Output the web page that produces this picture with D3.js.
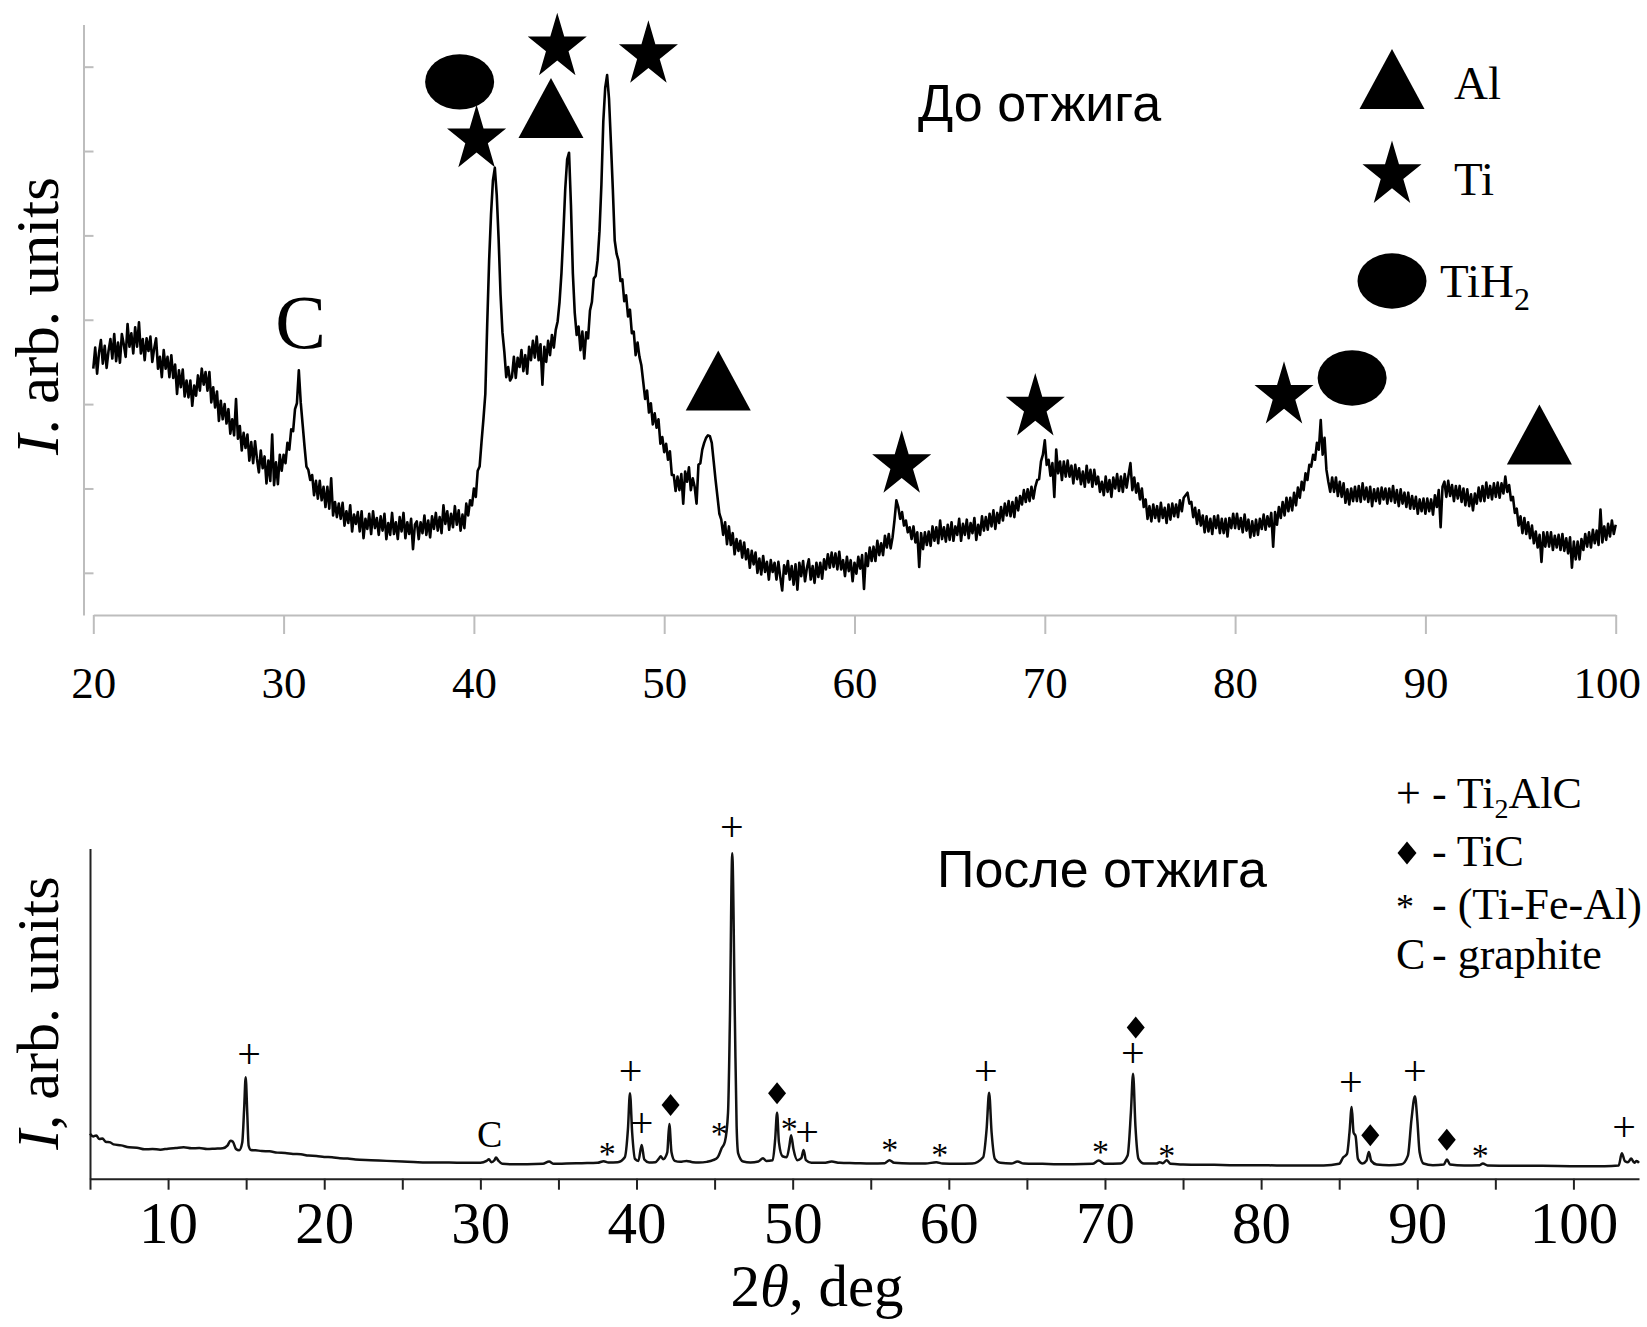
<!DOCTYPE html>
<html>
<head>
<meta charset="utf-8">
<script src="https://cdn.jsdelivr.net/npm/d3@7"></script>
<style>
  body { margin: 0; background: #fff; }
  svg { display: block; }
</style>
</head>
<body>
<div id="chart"></div>
<script>
// ---- top pattern (before annealing): 2theta 20..100 deg, step 0.1 ----
const topStart = 20, topStep = 0.1;
const topCounts = [
  292, 317, 286, 311, 326, 298, 319, 293, 313, 327,
  304, 333, 301, 323, 299, 333, 321, 306, 345, 318,
  334, 310, 341, 318, 347, 310, 327, 302, 328, 313,
  330, 300, 316, 328, 292, 306, 282, 314, 292, 306,
  282, 308, 281, 297, 262, 290, 270, 291, 259, 278,
  258, 278, 248, 272, 260, 284, 266, 292, 273, 288,
  266, 288, 252, 270, 246, 265, 230, 254, 232, 250,
  227, 244, 215, 232, 213, 256, 209, 224, 195, 216,
  198, 214, 183, 205, 180, 206, 185, 169, 195, 174,
  188, 156, 183, 159, 214, 154, 181, 155, 190, 171,
  190, 180, 204, 196, 220, 218, 244, 251, 290, 252,
  226, 200, 176, 172, 160, 166, 142, 159, 138, 159,
  136, 152, 128, 152, 126, 162, 118, 134, 116, 132,
  114, 133, 106, 123, 109, 130, 99, 119, 108, 122,
  99, 123, 91, 114, 102, 120, 96, 123, 103, 115,
  95, 117, 100, 120, 90, 109, 95, 121, 96, 110,
  90, 116, 99, 121, 91, 110, 96, 114, 78, 107,
  111, 90, 110, 97, 118, 95, 112, 92, 117, 102,
  121, 100, 116, 97, 130, 108, 123, 101, 120, 104,
  129, 107, 124, 100, 119, 103, 132, 118, 136, 130,
  150, 140, 171, 176, 205, 232, 262, 345, 420, 475,
  515, 530, 498, 445, 380, 335, 312, 282, 294, 278,
  282, 306, 281, 305, 294, 314, 289, 308, 286, 318,
  302, 325, 305, 330, 302, 321, 273, 318, 300, 325,
  308, 332, 317, 338, 348, 371, 405, 452, 505, 540,
  548, 486, 405, 358, 332, 342, 314, 336, 304, 335,
  328, 361, 371, 399, 402, 420, 455, 510, 585, 625,
  640, 612, 560, 505, 444, 428, 420, 396, 398, 372,
  379, 354, 362, 334, 336, 308, 323, 306, 296, 276,
  256, 266, 240, 251, 226, 239, 222, 232, 203, 211,
  193, 203, 184, 194, 166, 166, 147, 164, 148, 167,
  132, 170, 158, 175, 148, 162, 152, 132, 178, 180,
  196, 204, 210, 213, 212, 204, 182, 160, 140, 120,
  113, 95, 110, 84, 105, 83, 97, 72, 90, 76,
  88, 68, 86, 66, 78, 56, 76, 60, 74, 50,
  67, 48, 70, 51, 63, 42, 65, 51, 62, 42,
  63, 45, 29, 59, 49, 64, 42, 58, 36, 60,
  30, 62, 46, 64, 40, 56, 66, 42, 58, 38,
  62, 45, 62, 43, 66, 54, 72, 56, 74, 57,
  73, 54, 75, 54, 65, 46, 69, 52, 65, 40,
  62, 49, 69, 55, 71, 31, 73, 58, 80, 64,
  81, 64, 88, 71, 85, 71, 94, 80, 96, 79,
  92, 112, 136, 128, 114, 122, 106, 112, 98, 104,
  90, 105, 86, 98, 57, 97, 78, 98, 83, 99,
  82, 105, 88, 104, 85, 112, 90, 104, 87, 107,
  89, 110, 88, 105, 95, 114, 88, 108, 95, 113,
  91, 109, 97, 115, 89, 107, 95, 117, 100, 116,
  101, 120, 105, 124, 102, 121, 109, 128, 112, 132,
  118, 135, 117, 134, 116, 139, 124, 141, 131, 148,
  134, 149, 135, 152, 138, 152, 160, 161, 182, 190,
  207, 178, 184, 165, 180, 140, 196, 168, 182, 160,
  182, 164, 183, 164, 177, 156, 178, 161, 174, 155,
  170, 152, 177, 157, 172, 152, 172, 155, 164, 146,
  158, 142, 164, 146, 160, 140, 163, 150, 167, 147,
  164, 146, 167, 151, 166, 180, 148, 163, 145, 156,
  137, 150, 128, 137, 114, 129, 111, 131, 115, 129,
  111, 133, 115, 127, 109, 131, 113, 132, 117, 131,
  116, 136, 123, 139, 142, 145, 132, 134, 116, 127,
  108, 124, 106, 118, 98, 117, 99, 114, 96, 117,
  103, 118, 97, 114, 97, 114, 93, 115, 103, 120,
  103, 120, 102, 115, 98, 119, 100, 113, 92, 111,
  94, 113, 95, 114, 102, 119, 101, 117, 105, 121,
  81, 122, 107, 128, 115, 134, 118, 139, 123, 139,
  124, 145, 130, 151, 139, 158, 148, 168, 160, 178,
  176, 190, 184, 204, 196, 231, 190, 210, 172, 158,
  146, 163, 146, 163, 141, 158, 140, 156, 133, 149,
  131, 150, 135, 152, 135, 153, 134, 156, 137, 151,
  134, 152, 129, 149, 135, 150, 132, 151, 137, 150,
  132, 150, 135, 153, 133, 148, 129, 149, 132, 145,
  128, 145, 126, 141, 126, 140, 120, 137, 123, 138,
  120, 138, 123, 137, 119, 142, 128, 148, 104, 152,
  158, 140, 159, 141, 154, 135, 153, 138, 153, 134,
  150, 130, 149, 129, 143, 124, 144, 132, 151, 135,
  153, 135, 157, 139, 153, 137, 156, 140, 157, 139,
  156, 144, 164, 146, 154, 136, 140, 121, 126, 106,
  117, 97, 115, 96, 110, 91, 106, 85, 99, 80,
  95, 63, 98, 81, 98, 81, 98, 77, 94, 80,
  95, 77, 96, 76, 91, 73, 92, 56, 87, 66,
  87, 66, 90, 77, 96, 81, 98, 80, 101, 85,
  100, 83, 125, 86, 105, 89, 108, 93, 112, 96,
  107
];
const topTicksX = [20, 30, 40, 50, 60, 70, 80, 90, 100];
const topTicksY = [50, 150, 250, 350, 450, 550, 650];

// phase markers placed over the peaks (2theta, intensity)
const topMarks = [
  { deg: 39.25, v: 632, type: "ellipse" },
  { deg: 40.14, v: 564, type: "star" },
  { deg: 44.05, v: 601, type: "triangle" },
  { deg: 44.38, v: 673, type: "star" },
  { deg: 49.17, v: 664, type: "star" },
  { deg: 52.84, v: 278, type: "triangle" },
  { deg: 62.48, v: 178, type: "star" },
  { deg: 69.50, v: 246, type: "star" },
  { deg: 82.57, v: 260, type: "star" },
  { deg: 86.15, v: 281, type: "ellipse" },
  { deg: 95.99, v: 214, type: "triangle" }
];
const topCLabel = { deg: 30.89, v: 347, text: "C" };
const topLegend = [
  { type: "triangle", label: "Al", sub: "" },
  { type: "star", label: "Ti", sub: "" },
  { type: "ellipse", label: "TiH", sub: "2" }
];

// ---- bottom pattern (after annealing): [2theta, intensity] ----
const bottomPoints = [
  [5.0, 13.6], [5.2, 12.8], [5.4, 13.1], [5.6, 12.0], [5.8, 12.2], [6.0, 11.2], [6.3, 11.0],
  [6.5, 10.4], [7.0, 10.1], [7.5, 9.5], [8.0, 9.4], [8.5, 8.9], [9.0, 9.0], [9.5, 8.8],
  [10.0, 9.1], [10.5, 9.3], [11.0, 9.5], [11.5, 9.2], [12.0, 9.3], [12.5, 9.0], [13.0, 9.1],
  [13.5, 9.2], [13.8, 10.0], [14.0, 11.5], [14.15, 11.2], [14.35, 9.0], [14.55, 8.6],
  [14.75, 11], [14.87, 21], [14.97, 30.7], [15.07, 20], [15.16, 10], [15.3, 8.7],
  [15.6, 8.6], [16.0, 8.4], [16.5, 8.3], [17.0, 7.9], [17.5, 7.8], [18.0, 7.5], [18.5, 7.4],
  [19.0, 7.0], [19.5, 6.9], [20.0, 6.6], [20.5, 6.5], [21.0, 6.2], [21.5, 6.1],
  [22.0, 5.8], [23.0, 5.6], [24.0, 5.4], [25.0, 5.2], [26.0, 5.0], [27.0, 4.9], [28.0, 4.9],
  [29.0, 4.8], [30.0, 4.8], [30.4, 5.4], [30.55, 5.9], [30.7, 5.0], [30.9, 5.6], [31.0, 6.4],
  [31.15, 5.5], [31.4, 4.5], [32.0, 4.4], [33.0, 4.4], [34.0, 4.5], [34.4, 5.2], [34.7, 4.5],
  [35.5, 4.6], [36.5, 4.7], [37.5, 4.8], [37.9, 5.3], [38.2, 4.9], [38.8, 5.0], [39.25, 6.5],
  [39.45, 15], [39.58, 25.9], [39.72, 14], [39.9, 6], [40.12, 5.4], [40.33, 10.2],
  [40.5, 5.8], [40.8, 4.9], [41.2, 5.0], [41.45, 6.2], [41.55, 6.8], [41.7, 5.9],
  [41.97, 8], [42.1, 16.6], [42.24, 8], [42.45, 5.4], [42.8, 5.1], [43.2, 5.4], [43.6, 5.0],
  [44.0, 4.9], [44.5, 5.1], [44.9, 5.6], [45.2, 6.5], [45.45, 9.2], [45.66, 11.2],
  [45.86, 20], [45.98, 48], [46.13, 98.6], [46.3, 48], [46.41, 16], [46.51, 7.7],
  [46.83, 5.2], [47.3, 4.9], [47.8, 5.2], [48.1, 6.2], [48.3, 5.4], [48.72, 5.6],
  [48.88, 12], [49.0, 20.0], [49.12, 11], [49.35, 6.8], [49.62, 6.5], [49.79, 10],
  [49.9, 13.2], [50.05, 9], [50.3, 5.6], [50.55, 6.2], [50.7, 8.7], [50.85, 5.6],
  [51.2, 4.8], [52.0, 4.8], [52.5, 5.2], [53.0, 4.8], [54.0, 4.7], [55.0, 4.6], [55.9, 4.7],
  [56.2, 5.6], [56.5, 4.8], [57.5, 4.6], [58.5, 4.6], [59.2, 5.0], [59.6, 4.6], [60.5, 4.5],
  [61.5, 4.6], [62.2, 6.5], [62.42, 15], [62.58, 26], [62.74, 14], [62.95, 6], [63.3, 4.8],
  [64.0, 4.6], [64.4, 5.2], [64.8, 4.6], [66.0, 4.5], [67.0, 4.4], [68.0, 4.4], [69.2, 4.5],
  [69.6, 5.5], [70.0, 4.5], [71.0, 4.6], [71.45, 7], [71.66, 20], [71.8, 31.8],
  [71.95, 16], [72.15, 6], [72.5, 4.6], [73.3, 4.6], [73.5, 5.0], [73.7, 4.7], [73.95, 5.6],
  [74.2, 4.5], [75.0, 4.3], [76.0, 4.2], [77.0, 4.2], [78.0, 4.1], [79.0, 4.1], [80.0, 4.1],
  [81.0, 4.0], [82.0, 4.0], [83.0, 4.0], [84.0, 4.0], [85.0, 4.5], [85.25, 6.4],
  [85.5, 7.5], [85.66, 14], [85.8, 21.7], [85.92, 14], [86.05, 12.9], [86.2, 6],
  [86.5, 4.6], [86.75, 5.5], [86.9, 8.1], [87.05, 5.4], [87.4, 4.3], [88.2, 4.1],
  [89.0, 4.4], [89.4, 7], [89.63, 18], [89.85, 25], [90.0, 18], [90.15, 8], [90.4, 4.6],
  [91.0, 4.1], [91.7, 4.3], [91.9, 5.8], [92.1, 4.3], [93.0, 4.0], [94.0, 4.1], [94.2, 4.6],
  [94.5, 4.0], [96.0, 3.9], [98.0, 3.9], [100.0, 3.8], [102.0, 3.8], [102.9, 4.0],
  [103.1, 7.7], [103.3, 5.3], [103.5, 5.0], [103.7, 6.1], [103.9, 4.8], [104.05, 5.4],
  [104.2, 4.8]
];
const bottomTicksX = [5, 10, 15, 20, 25, 30, 35, 40, 45, 50, 55, 60, 65, 70, 75, 80, 85, 90, 95, 100];
const bottomLabeled = [10, 20, 30, 40, 50, 60, 70, 80, 90, 100];

// peak labels: [2theta, intensity, symbol]
const bottomMarks = [
  [15.19, 36.6, "+"], [30.6, 13.5, "C"], [38.12, 9.2, "*"], [39.62, 31.7, "+"],
  [40.33, 15.8, "+"], [42.18, 22.3, "d"], [45.29, 15.3, "*"], [46.11, 105.5, "+"],
  [49.0, 25.9, "d"], [49.78, 17.0, "*"], [50.93, 13.2, "+"], [56.22, 10.5, "*"],
  [59.42, 9.0, "*"], [62.37, 31.7, "+"], [69.71, 9.9, "*"], [71.78, 37.0, "+"],
  [71.97, 45.8, "d"], [73.96, 8.7, "*"], [85.74, 28.3, "+"], [86.99, 13.2, "d"],
  [89.84, 31.5, "+"], [91.89, 11.8, "d"], [94.04, 8.8, "*"], [103.25, 14.6, "+"]
];
const bottomLegend = [
  { sym: "+", parts: [["- Ti", ""], ["2", "sub"], ["AlC", ""]] },
  { sym: "d", parts: [["- TiC", ""]] },
  { sym: "*", parts: [["- (Ti-Fe-Al)", ""]] },
  { sym: "C", parts: [["- graphite", ""]] }
];

// ---- drawing ----
const W = 1647, H = 1327;
const serif = '"Liberation Serif", "Times New Roman", serif';
const sans = '"Liberation Sans", Arial, sans-serif';
const axisGray = "#bdbdbd";

const svg = d3.select("#chart").append("svg")
  .attr("width", W)
  .attr("height", H);

const starPath = d3.symbol(d3.symbolStar, 1336)();

function triPath(w, h) {
  const p = d3.path();
  p.moveTo(0, -h / 2);
  p.lineTo(w / 2, h / 2);
  p.lineTo(-w / 2, h / 2);
  p.closePath();
  return p.toString();
}

function diamondPath(w, h) {
  const p = d3.path();
  p.moveTo(0, -h / 2);
  p.lineTo(w / 2, 0);
  p.lineTo(0, h / 2);
  p.lineTo(-w / 2, 0);
  p.closePath();
  return p.toString();
}

function drawMark(g, type, x, y) {
  if (type === "ellipse") {
    g.append("ellipse").attr("cx", x).attr("cy", y).attr("rx", 34.5).attr("ry", 27.7).attr("fill", "#000");
  } else if (type === "star") {
    g.append("path").attr("d", starPath).attr("fill", "#000")
      .attr("transform", `translate(${x},${y}) scale(0.9,1)`);
  } else if (type === "triangle") {
    g.append("path").attr("d", triPath(65, 60)).attr("fill", "#000")
      .attr("transform", `translate(${x},${y})`);
  }
}

// top chart
const x1 = d3.scaleLinear().domain([20, 100]).range([93.3, 1615.7]);
const y1 = d3.scaleLinear().domain([0, 700]).range([615, 24.5]);

const gx1 = svg.append("g")
  .attr("transform", `translate(0,${y1(0)})`)
  .call(d3.axisBottom(x1).tickValues(topTicksX).tickSize(19).tickSizeOuter(0).tickFormat(d3.format("d")));
gx1.select(".domain").attr("stroke", axisGray).attr("stroke-width", 2);
gx1.selectAll(".tick line").attr("stroke", axisGray).attr("stroke-width", 2);
gx1.selectAll(".tick text")
  .attr("y", 83).attr("dy", 0)
  .attr("font-family", serif).attr("font-size", 45).attr("fill", "#000");
// last label sits against the page edge
gx1.selectAll(".tick text").filter(d => d === 100).attr("x", -9);

const gy1 = svg.append("g")
  .attr("transform", "translate(83.5,0)")
  .call(d3.axisRight(y1).tickValues(topTicksY).tickSize(10).tickSizeOuter(0).tickFormat(""));
gy1.select(".domain").attr("stroke", axisGray).attr("stroke-width", 2);
gy1.selectAll(".tick line").attr("stroke", axisGray).attr("stroke-width", 2);

const topLine = d3.line()
  .x((d, i) => x1(topStart + i * topStep))
  .y(d => y1(d));

svg.append("path")
  .datum(topCounts)
  .attr("fill", "none")
  .attr("stroke", "#000")
  .attr("stroke-width", 2.6)
  .attr("stroke-linejoin", "round")
  .attr("d", topLine);

const gm1 = svg.append("g");
topMarks.forEach(m => drawMark(gm1, m.type, x1(m.deg), y1(m.v)));

svg.append("text")
  .attr("x", x1(topCLabel.deg)).attr("y", y1(topCLabel.v)).attr("dy", "0.34em")
  .attr("text-anchor", "middle")
  .attr("font-family", serif).attr("font-size", 76)
  .text(topCLabel.text);

svg.append("text")
  .attr("x", 918).attr("y", 121)
  .attr("font-family", sans).attr("font-size", 52)
  .text("До отжига");

// top legend
const legRowsY = [79, 175, 281];
const legTextPos = [[1454, 99], [1454, 195], [1440, 297]];
const gl1 = svg.append("g");
topLegend.forEach((e, i) => {
  drawMark(gl1, e.type, 1392, legRowsY[i]);
  const t = gl1.append("text")
    .attr("x", legTextPos[i][0]).attr("y", legTextPos[i][1])
    .attr("font-family", serif).attr("font-size", 47)
    .text(e.label);
  if (e.sub) {
    t.append("tspan").attr("dy", 13).attr("font-size", 32).text(e.sub);
  }
});

// top y label
svg.append("text")
  .attr("transform", "translate(58,316) rotate(-90)")
  .attr("text-anchor", "middle")
  .attr("font-family", serif).attr("font-size", 61)
  .call(t => {
    t.append("tspan").attr("font-style", "italic").text("I");
    t.append("tspan").text(". arb. units");
  });

// bottom chart
const x2 = d3.scaleLinear().domain([5, 104.2]).range([90, 1639]);
const y2 = d3.scaleLinear().domain([0, 100]).range([1178.7, 848.6]);

const gx2 = svg.append("g")
  .attr("transform", `translate(0,${y2(0)})`)
  .call(d3.axisBottom(x2).tickValues(bottomTicksX).tickSize(11).tickSizeOuter(0)
    .tickFormat(d => bottomLabeled.includes(d) ? d : ""));
gx2.select(".domain").attr("stroke", "#222").attr("stroke-width", 2);
gx2.selectAll(".tick line").attr("stroke", "#222").attr("stroke-width", 2);
gx2.selectAll(".tick text")
  .attr("y", 64).attr("dy", 0)
  .attr("font-family", serif).attr("font-size", 59).attr("fill", "#000");

const gy2 = svg.append("g")
  .attr("transform", `translate(${x2(5)},0)`)
  .call(d3.axisLeft(y2).tickValues([]).tickSizeOuter(0));
gy2.select(".domain").attr("stroke", "#222").attr("stroke-width", 2);

const bottomLine = d3.line()
  .curve(d3.curveMonotoneX)
  .x(d => x2(d[0]))
  .y(d => y2(d[1]));

svg.append("path")
  .datum(bottomPoints)
  .attr("fill", "none")
  .attr("stroke", "#111")
  .attr("stroke-width", 2.5)
  .attr("stroke-linejoin", "round")
  .attr("d", bottomLine);

const gm2 = svg.append("g");
bottomMarks.forEach(([deg, v, s]) => {
  const x = x2(deg), y = y2(v);
  if (s === "d") {
    gm2.append("path").attr("d", diamondPath(18, 22)).attr("fill", "#000")
      .attr("transform", `translate(${x},${y})`);
  } else {
    gm2.append("text")
      .attr("x", x).attr("y", y)
      .attr("dy", s === "*" ? "0.5em" : s === "+" ? "0.25em" : "0.34em")
      .attr("text-anchor", "middle")
      .attr("font-family", serif)
      .attr("font-size", s === "*" ? 34 : s === "+" ? 42 : 38)
      .text(s);
  }
});

svg.append("text")
  .attr("x", 937).attr("y", 887)
  .attr("font-family", sans).attr("font-size", 52)
  .text("После отжига");

// bottom legend: one text element per row (symbol glyph + description)
const leg2Y = [808, 866, 919, 969];
const gl2 = svg.append("g");
bottomLegend.forEach((e, i) => {
  const t = gl2.append("text")
    .attr("x", 1396).attr("y", leg2Y[i])
    .attr("font-family", serif).attr("font-size", 44);
  if (e.sym === "d") {
    gl2.append("path").attr("d", diamondPath(19, 23)).attr("fill", "#000")
      .attr("transform", `translate(1407,${leg2Y[i] - 13})`);
  } else {
    t.append("tspan").attr("font-size", e.sym === "*" ? 36 : 44).text(e.sym);
  }
  e.parts.forEach(([s, kind], j) => {
    const ts = t.append("tspan").text(s);
    if (j === 0) ts.attr("x", 1432);
    if (kind === "sub") ts.attr("dy", 10).attr("font-size", 28);
    else if (j > 0 && e.parts[j - 1][1] === "sub") ts.attr("dy", -10);
  });
});

// bottom axis titles
svg.append("text")
  .attr("transform", "translate(58,1013) rotate(-90)")
  .attr("text-anchor", "middle")
  .attr("font-family", serif).attr("font-size", 60)
  .call(t => {
    t.append("tspan").attr("font-style", "italic").text("I");
    t.append("tspan").text(", arb. units");
  });

svg.append("text")
  .attr("x", 817).attr("y", 1306)
  .attr("text-anchor", "middle")
  .attr("font-family", serif).attr("font-size", 59)
  .call(t => {
    t.append("tspan").text("2");
    t.append("tspan").attr("font-style", "italic").text("θ");
    t.append("tspan").text(", deg");
  });
</script>
</body>
</html>
